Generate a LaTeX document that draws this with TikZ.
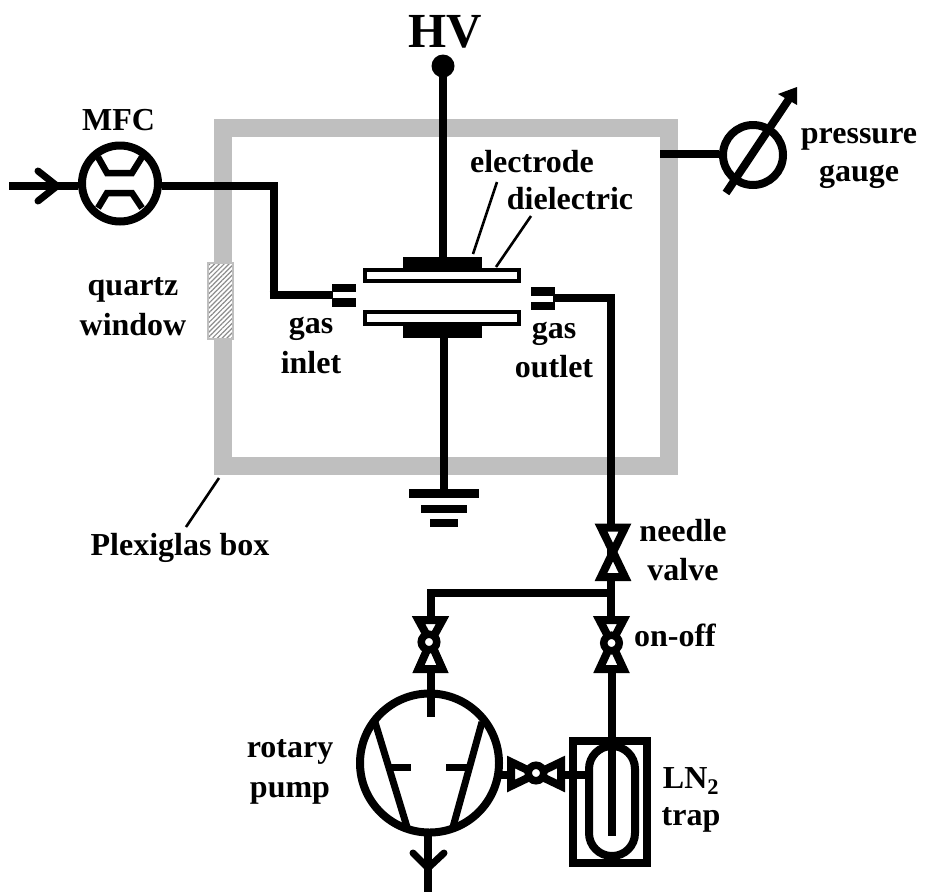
\documentclass[tikz,border=0pt]{standalone}
\usepackage{fontspec}
\setmainfont{Liberation Serif}
\usetikzlibrary{patterns.meta}
\definecolor{boxgray}{gray}{0.75}
\tikzset{
  x=1pt,y=-1pt,
  pipe/.style={line width=8pt,black},
  thin lead/.style={line width=2.6pt,black},
  valvetri/.style={line width=8pt,draw=black,fill=white,line join=miter},
  lab/.style={font=\bfseries\fontsize{32}{32}\selectfont,anchor=base,inner sep=0pt,text=black},
  plate/.style={line width=4pt,draw=black,fill=white},
  blackrect/.style={fill=black,draw=none},
  chevron/.style={line width=7pt,line cap=round,line join=miter},
  symcircle/.style={line width=8pt,draw=black,fill=white,circle,inner sep=0pt},
  hub/.style={line width=7.5pt,draw=black,fill=white,circle,inner sep=0pt,minimum size=15.5pt}
}
\begin{document}
\begin{tikzpicture}
\useasboundingbox (0,0) rectangle (925,892);
\fill[white] (0,0) rectangle (925,892);
% Plexiglas box
\node[draw=boxgray,line width=18pt,minimum width=446pt,minimum height=338pt,inner sep=0pt,outer sep=0pt,anchor=north west] (box) at (223,128) {};
% quartz window
\path[fill=white] (207,262) rectangle (233,339);
\path[pattern={Lines[angle=45,distance=3.4pt,line width=1.2pt]},pattern color=black!45] (207,262) rectangle (233,339);
\node[draw=boxgray,line width=2pt,minimum width=25pt,minimum height=76pt,inner sep=0pt] (quartz) at (220,300.5) {};
% coordinates
\coordinate (inA) at (9,186);
\coordinate (bendA) at (273.5,186);
\coordinate (bendB) at (273.5,295);
\coordinate (inletEnd) at (333,295);
\coordinate (outletStart) at (553,298);
\coordinate (bendC) at (611,298);
\coordinate (teeJ) at (611,593);
\coordinate (teeL) at (431,593);
% gas pipes
\node[symcircle,minimum size=76pt] (mfc) at (120,183.5) {};
\draw[pipe] (inA) -- (mfc.west|-inA);
\draw[pipe] (mfc.east|-bendA) -- ([xshift=4pt]bendA);
\draw[pipe] (bendA) -- (bendB);
\draw[pipe] ([xshift=-4pt]bendB) -- (inletEnd);
\draw[chevron] (38,171) -- (57,186) -- (38,201);
\draw[line width=6.5pt] (98,157) -- (107,173) -- (132,173) -- (142,157);
\draw[line width=6.5pt] (98,208) -- (107,193) -- (132,193) -- (142,208);
% HV
\coordinate (hvdot) at (443,66);
\fill (hvdot) circle (11.5);
\draw[pipe] (hvdot) -- (443,257);
\draw[pipe] (444,338) -- (444,490);
% plates
\fill[blackrect] (403,257) rectangle (482,268);
\fill[blackrect] (403,326) rectangle (482,338);
\draw[plate] (365,270) rectangle (519,281);
\draw[plate] (365,312) rectangle (519,324);
% inlet/outlet fittings
\fill (332,284) rectangle (356,292);
\fill (332,298) rectangle (356,307);
\fill (531,287) rectangle (555,296);
\fill (531,302) rectangle (555,310);
\draw[pipe,line join=miter] (outletStart) -- (bendC) -- (teeJ);
% ground
\fill (409,489) rectangle (479,498);
\fill (421,505) rectangle (467,513);
\fill (430,519) rectangle (458,527);
% gauge
\node[symcircle,minimum size=60pt] (gauge) at (753,155) {};
\draw[pipe] (660,154) -- (gauge.west|-0,154);
\draw[pipe] (726,193) -- (789,99);
\fill (797,87) -- (778,94) -- (797,105) -- cycle;
% needle valve
\draw[valvetri] (601,527.5) -- (625,527.5) -- (613,552) -- cycle;
\draw[valvetri] (601,577) -- (625,577) -- (613,552) -- cycle;
% branch
\draw[pipe,line join=miter] (teeL|-teeJ) ++(-4,0) -- (teeJ);
\draw[pipe] (teeL) -- (431,618);
\draw[pipe] (611,581) -- (teeJ) -- (611,617);
% on-off valves
\draw[valvetri] (599.5,620) -- (623.5,620) -- (611.5,643) -- cycle;
\draw[valvetri] (599.5,669) -- (623.5,669) -- (611.5,643) -- cycle;
\node[hub] (onoffR) at (611.5,643) {};
\draw[valvetri] (418.5,620) -- (442.5,620) -- (430.5,642) -- cycle;
\draw[valvetri] (418.5,669) -- (442.5,669) -- (430.5,642) -- cycle;
\node[hub] (onoffL) at (429,642) {};
\draw[pipe] (612,673) -- (612,836);
% pump
\node[symcircle,minimum size=139pt,fill=none] (pump) at (429.5,763) {};
\draw[pipe] (431,673) -- (431,717);
\draw[line width=7pt] (375,722) -- (407,827);
\draw[line width=7pt] (482,722) -- (453,827);
\draw[line width=7pt] (389,767) -- (411,767);
\draw[line width=7pt] (446,767) -- (469,767);
\draw[pipe] (428,836) -- (428,892);
\draw[chevron] (413,853) -- (428,868) -- (444,853);
% trap
\draw[line width=8pt] (573,741) rectangle (647,863);
\draw[line width=8pt,rounded corners=22.9pt] (589,746) rectangle (635,856);
% trap valve
\draw[pipe] (499,775) -- (510,775);
\draw[pipe] (563,775) -- (587,775);
\draw[valvetri] (511,762) -- (511,786) -- (536,774) -- cycle;
\draw[valvetri] (561,762) -- (561,786) -- (536,774) -- cycle;
\node[hub] (onoffT) at (536,773) {};
% leaders
\draw[thin lead] (473,254) -- (497,182);
\draw[thin lead] (496,267) -- (531,216);
\draw[thin lead] (219,478) -- (186,527);
% labels
\node[lab] (tMFC) at (118.5,130) {MFC};
\node[lab,font=\bfseries\fontsize{49}{49}\selectfont] (tHV) at (445,47) {HV};
\node[lab] (tel) at (532,172) {electrode};
\node[lab] (tdi) at (570,209) {dielectric};
\node[lab] (tp1) at (859,143) {pressure};
\node[lab] (tp2) at (859,181) {gauge};
\node[lab] (tq1) at (133,295) {quartz};
\node[lab] (tq2) at (133,335) {window};
\node[lab] (tgi1) at (311,333) {gas};
\node[lab] (tgi2) at (311,373) {inlet};
\node[lab] (tgo1) at (554,338) {gas};
\node[lab] (tgo2) at (554,377) {outlet};
\node[lab] (tpl) at (180,555) {Plexiglas box};
\node[lab] (tn1) at (683,541) {needle};
\node[lab] (tn2) at (683,580) {valve};
\node[lab] (toff) at (675,646) {on-off};
\node[lab] (tr1) at (290,757) {rotary};
\node[lab] (tr2) at (290,797) {pump};
\node[lab] (tln) at (691,788) {LN\textsubscript{2}};
\node[lab] (ttr) at (691,825) {trap};
\end{tikzpicture}
\end{document}
